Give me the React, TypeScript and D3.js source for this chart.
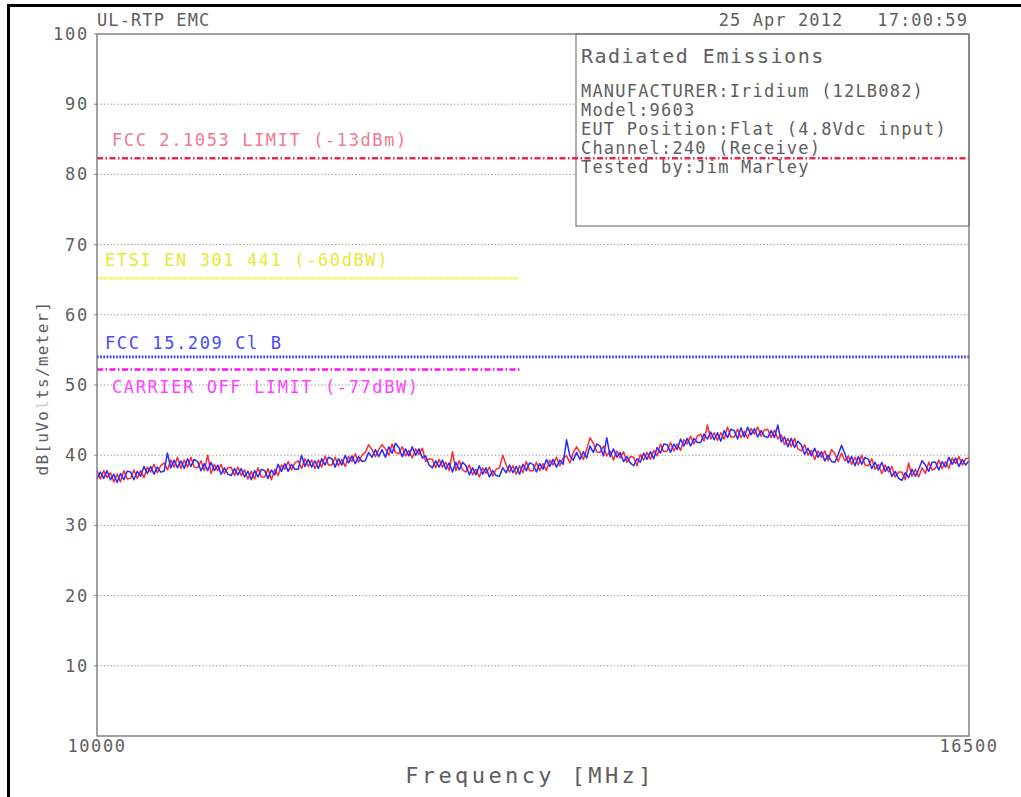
import React from "react";
import * as d3 from "d3";

// ---- data ----
const F_START = 10000;
const F_STOP = 16500;
const F_STEP = 25;

const yTicks = [10, 20, 30, 40, 50, 60, 70, 80, 90, 100];
const xTickLabels = ["10000", "16500"];

const limitNames = [
  "FCC 2.1053 LIMIT (-13dBm)",
  "ETSI EN 301 441 (-60dBW)",
  "FCC 15.209 Cl B",
  "CARRIER OFF LIMIT (-77dBW)",
];
const limitLevels = [82.3, 65.2, 54.0, 52.2];
const limitStops = [16500, 13150, 16500, 13150];

const legendLines = [
  "MANUFACTURER:Iridium (12LB082)",
  "Model:9603",
  "EUT Position:Flat (4.8Vdc input)",
  "Channel:240 (Receive)",
  "Tested by:Jim Marley",
];

const redTrace = [
  37.8,36.6,37.8,36.8,37.5,36.2,37.3,36.2,37.8,36.6,
  36.7,37.9,36.7,37.8,36.8,38.3,37.6,38.7,37.5,38.5,
  38.9,37.9,39.3,38.3,39.7,38.1,39.3,38.3,39.7,38.3,
  38.2,39.2,37.8,40.0,37.4,38.7,37.8,38.7,37.4,38.2,
  38.3,37.1,38.3,37.1,37.9,36.6,37.7,36.6,38.2,36.9,
  36.9,38.1,36.5,38.0,37.1,38.6,38.0,39.1,37.9,38.9,
  39.2,38.1,39.5,38.4,39.3,38.1,39.3,38.3,39.9,38.6,
  38.6,39.7,38.5,39.4,38.4,39.8,39.1,40.2,39.0,40.0,
  40.4,41.5,40.8,39.8,40.8,41.5,40.9,40.0,41.6,40.4,
  40.2,41.2,39.9,40.7,39.6,40.9,40.1,41.0,39.1,39.5,
  39.4,38.2,39.4,38.3,39.0,37.8,40.5,37.8,39.2,37.9,
  37.6,38.6,37.2,38.0,36.9,38.2,37.4,38.3,37.0,38.0,
  38.2,40.0,38.6,37.6,38.5,37.3,38.5,37.5,39.1,37.8,
  37.8,39.0,37.8,38.8,37.8,39.3,38.6,39.7,38.5,39.6,
  39.9,38.9,40.4,41.2,40.4,39.4,40.8,42.5,41.7,40.5,
  40.4,41.3,39.9,40.6,39.3,40.6,39.6,40.5,39.0,39.8,
  39.7,38.5,40.1,39.3,40.4,39.4,40.7,39.9,41.6,40.5,
  40.6,41.8,40.6,41.6,40.7,42.2,41.6,42.7,41.6,42.7,
  43.0,42.0,44.3,42.3,43.2,42.1,43.2,42.3,44.0,42.6,
  42.6,43.7,42.5,43.4,42.4,43.8,43.0,44.0,42.7,43.6,
  43.7,42.5,43.6,42.3,42.9,41.5,42.4,41.2,42.4,40.9,
  40.6,41.5,40.0,40.7,39.4,40.6,39.7,40.6,39.2,40.8,
  40.2,39.1,40.3,39.2,39.9,38.7,39.7,38.6,40.0,38.6,
  38.5,39.5,38.0,38.7,37.4,38.6,37.6,38.4,36.9,37.6,
  37.6,36.5,38.9,37.0,38.0,36.9,38.2,37.4,39.0,37.9,
  38.1,39.3,38.1,39.1,38.1,39.6,38.8,39.8,38.6,39.5,39.6,
];

const blueTrace = [
  36.6,37.6,36.7,37.8,36.5,37.3,36.1,37.4,36.5,37.7,
  37.6,36.5,37.7,37.0,38.4,37.4,38.4,37.3,38.3,37.6,
  37.7,40.3,38.2,39.3,38.2,39.2,38.1,39.5,38.4,39.4,
  39.1,37.8,38.8,37.8,39.0,37.8,38.6,37.3,38.2,37.3,
  37.1,38.1,37.2,38.1,36.9,37.7,36.5,37.8,36.9,38.0,
  37.8,36.7,37.9,37.2,38.7,37.7,38.8,37.7,38.7,38.0,
  38.0,40.0,38.4,39.4,38.3,39.2,38.1,39.5,38.6,39.7,
  39.5,38.3,39.5,38.6,40.0,38.9,39.9,38.8,39.8,39.1,
  39.2,40.4,39.7,40.8,39.8,40.8,39.7,41.2,40.3,41.7,
  41.1,39.8,40.9,39.9,41.2,40.0,40.9,39.6,39.9,38.6,
  38.2,39.2,38.3,39.3,38.0,38.9,37.6,39.0,37.9,39.0,
  38.5,37.2,38.2,37.2,38.5,37.3,38.2,36.9,37.8,37.1,
  37.0,38.2,37.5,38.6,37.5,38.4,37.3,38.7,37.8,38.9,
  38.7,37.6,38.8,38.0,39.4,38.4,39.4,38.3,39.3,38.7,
  42.2,39.9,39.3,40.4,39.4,40.5,39.6,41.3,40.4,41.6,
  41.3,39.9,42.5,39.8,40.9,39.7,40.4,39.1,39.8,38.9,
  38.5,39.5,39.0,40.3,39.4,40.5,39.5,41.1,40.3,41.6,
  41.5,40.4,41.6,40.8,42.3,41.3,42.4,41.3,42.4,41.8,
  41.8,43.0,42.3,43.3,42.2,43.2,42.0,43.5,42.5,43.7,
  43.5,42.3,43.9,42.6,44.0,42.9,43.8,42.6,43.5,42.7,
  42.5,43.5,42.5,44.3,41.9,42.6,41.2,42.4,41.1,42.0,
  41.5,40.1,41.0,39.9,41.0,39.7,40.5,39.2,40.0,39.1,
  39.0,40.1,41.4,40.2,38.9,39.8,38.5,39.8,38.7,39.7,
  39.4,38.1,39.0,37.9,39.0,37.7,38.4,37.0,37.7,36.7,
  36.4,37.5,36.8,38.0,37.0,38.0,39.2,38.6,37.7,39.0,
  39.0,37.9,39.1,38.3,39.7,38.7,39.6,38.4,39.4,38.6,39.2,
];

// ---- layout ----
const W = 1021;
const H = 797;
const PL = 97, PR = 969, PT = 34, PB = 736;
const FONT = "'DejaVu Sans Mono', 'Liberation Mono', monospace";
const TEXT = "#5e5e5e";
const limitLine = ["#e8284e", "#f0f000", "#2a2aff", "#ff10ff"];
const limitText = ["#ee7a90", "#e8e838", "#4a4aff", "#ff44ff"];
const limitDash = ["6,2.5,1.5,2.5", "1.6,1.6", "1.6,1.6", "6,2.5,1.5,2.5"];
const limitLabelX = [112, 105, 105, 112];
const limitLabelDy = [-12, -12, -8, 23];

export default function App() {
  const x = d3.scaleLinear().domain([F_START, F_STOP]).range([PL, PR]);
  const y = d3.scaleLinear().domain([0, 100]).range([PB, PT]);
  const freqs = redTrace.map((_, i) => F_START + i * F_STEP);
  const line = d3
    .line<number>()
    .x((_, i) => x(freqs[i]))
    .y((d) => y(d));

  return (
    <svg
      width={W}
      height={H}
      style={{ position: "absolute", left: 0, top: 0, background: "#fff" }}
      fontFamily={FONT}
    >
      <rect x={0} y={0} width={W} height={H} fill="#fff" />
      {/* outer black frame */}
      <line x1={8.5} y1={4} x2={8.5} y2={H} stroke="#000" strokeWidth={3} />
      <line x1={7} y1={5.5} x2={W} y2={5.5} stroke="#000" strokeWidth={3} />

      {/* grid */}
      {yTicks
        .filter((t) => t < 100)
        .map((t) => (
          <line
            key={"g" + t}
            x1={PL}
            x2={PR}
            y1={y(t)}
            y2={y(t)}
            stroke="#8a8a8a"
            strokeWidth={1}
            strokeDasharray="1.2,2.2"
          />
        ))}

      {/* y ticks and labels */}
      {yTicks.map((t) => (
        <g key={"t" + t}>
          <line x1={PL - 3} x2={PL} y1={y(t)} y2={y(t)} stroke="#888" strokeWidth={1} />
          <text
            x={89}
            y={y(t) + 6}
            textAnchor="end"
            fontSize={17}
            letterSpacing={1.8}
            fill={TEXT}
          >
            {String(t)}
          </text>
        </g>
      ))}

      {/* x tick labels */}
      {xTickLabels.map((l) => (
        <text
          key={"x" + l}
          x={x(+l)}
          y={752}
          textAnchor="middle"
          fontSize={17}
          letterSpacing={1.6}
          fill={TEXT}
        >
          {l}
        </text>
      ))}

      {/* traces */}
      <path d={line(redTrace) || ""} fill="none" stroke="#ff2a2a" strokeWidth={1.5} strokeLinejoin="round" />
      <path d={line(blueTrace) || ""} fill="none" stroke="#2a2aff" strokeWidth={1.5} strokeLinejoin="round" />

      {/* legend box */}
      <rect x={576} y={PT} width={PR - 576} height={226 - PT} fill="#fff" stroke="#7a7a7a" strokeWidth={1.2} />
      <text x={581} y={63} fontSize={20} letterSpacing={1.5} fill={TEXT}>
        Radiated Emissions
      </text>
      {legendLines.map((l, i) => (
        <text key={"lg" + i} x={581} y={97 + i * 19} fontSize={17} letterSpacing={1.2} fill={TEXT}>
          {l}
        </text>
      ))}

      {/* limit lines */}
      {limitNames.map((n, i) => (
        <g key={"lim" + i}>
          <line
            x1={PL}
            x2={x(limitStops[i])}
            y1={y(limitLevels[i])}
            y2={y(limitLevels[i])}
            stroke={limitLine[i]}
            strokeWidth={2.6}
            strokeDasharray={limitDash[i]}
          />
          <text
            x={limitLabelX[i]}
            y={y(limitLevels[i]) + limitLabelDy[i]}
            fontSize={17}
            letterSpacing={1.6}
            fill={limitText[i]}
          >
            {n}
          </text>
        </g>
      ))}

      {/* plot frame */}
      <rect x={PL} y={PT} width={PR - PL} height={PB - PT} fill="none" stroke="#7a7a7a" strokeWidth={1.4} />

      {/* header */}
      <text x={97} y={26} fontSize={17} letterSpacing={1.1} fill={TEXT}>
        UL-RTP EMC
      </text>
      <text x={968} y={26} textAnchor="end" fontSize={17} letterSpacing={1.1} fill={TEXT} style={{ whiteSpace: "pre" }}>
        {"25 Apr 2012   17:00:59"}
      </text>

      {/* axis titles */}
      <text
        x={530}
        y={783}
        textAnchor="middle"
        fontSize={22}
        letterSpacing={3.4}
        fill={TEXT}
      >
        Frequency [MHz]
      </text>
      <text
        transform={`translate(48,${388}) rotate(-90)`}
        textAnchor="middle"
        fontSize={16}
        letterSpacing={1.3}
        fill={TEXT}
      >
        dB[uVo<tspan fill="#d0d0d0">l</tspan>ts/meter]
      </text>
    </svg>
  );
}
